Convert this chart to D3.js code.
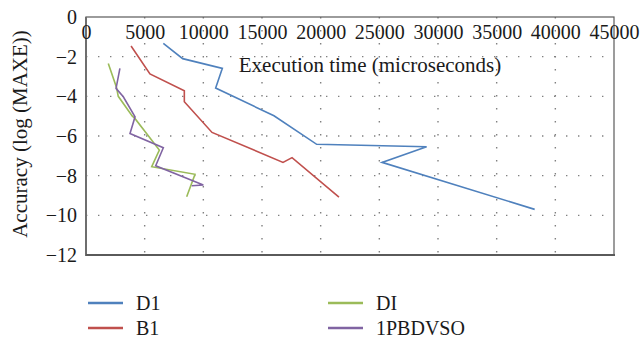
<!DOCTYPE html>
<html>
<head>
<meta charset="utf-8">
<script src="https://cdn.jsdelivr.net/npm/d3@7"></script>
<style>
  body { margin: 0; background: #fff; }
  svg { display: block; }
</style>
</head>
<body>
<div id="chart"></div>
<script>
// series: execution time (microseconds) vs accuracy (log MAXE)
const seriesNames = ['D1', 'B1', 'DI', '1PBDVSO'];
const seriesColors = ['#4f81bd', '#c0504d', '#9bbb59', '#8064a2'];

const d1Time = [6590, 8240, 11620, 11050, 16020, 19660, 29030, 25230, 38240];
const d1Acc  = [-1.33, -2.10, -2.59, -3.58, -4.98, -6.42, -6.54, -7.33, -9.70];

const b1Time = [3840, 5450, 8380, 8380, 10740, 16790, 17560, 21560];
const b1Acc  = [-1.46, -2.87, -3.72, -4.27, -5.82, -7.33, -7.09, -9.08];

const diTime = [1900, 2600, 2750, 3950, 4150, 6250, 5600, 9290, 8580];
const diAcc  = [-2.34, -3.55, -4.0, -5.0, -5.1, -6.71, -7.55, -7.93, -9.06];

const pbTime = [2890, 2560, 3180, 4180, 3750, 6590, 5940, 10000, 9010];
const pbAcc  = [-2.59, -3.60, -4.02, -5.03, -5.87, -6.59, -7.50, -8.47, -8.51];

const xTicks = [0, 5000, 10000, 15000, 20000, 25000, 30000, 35000, 40000, 45000];
const yTicks = [0, -2, -4, -6, -8, -10, -12];

const allTimes = [d1Time, b1Time, diTime, pbTime];
const allAcc = [d1Acc, b1Acc, diAcc, pbAcc];

const width = 641, height = 338;
const plotL = 86, plotR = 614, plotT = 17, plotB = 255;
const serif = '"Liberation Serif", "Times New Roman", serif';

const svg = d3.select('#chart').append('svg')
  .attr('width', width).attr('height', height)
  .attr('font-family', serif);

const x = d3.scaleLinear().domain([0, 45000]).range([plotL, plotR]);
const y = d3.scaleLinear().domain([0, -12]).range([plotT, plotB]);

// dotted grid
svg.append('g').selectAll('line')
  .data(xTicks.slice(1, -1))
  .join('line')
  .attr('x1', d => x(d)).attr('x2', d => x(d))
  .attr('y1', plotT).attr('y2', plotB)
  .attr('stroke', '#808080').attr('stroke-width', 1.4)
  .attr('stroke-dasharray', '1.4,11.6');

svg.append('g').selectAll('line')
  .data(yTicks.slice(1, -1))
  .join('line')
  .attr('x1', plotL).attr('x2', plotR)
  .attr('y1', d => y(d)).attr('y2', d => y(d))
  .attr('stroke', '#808080').attr('stroke-width', 1.4)
  .attr('stroke-dasharray', '1.4,10.6');

// frame
svg.append('rect')
  .attr('x', plotL).attr('y', plotT)
  .attr('width', plotR - plotL).attr('height', plotB - plotT)
  .attr('fill', 'none').attr('stroke', '#5a5a5a').attr('stroke-width', 1.2);
svg.append('line')
  .attr('x1', plotL).attr('x2', plotL).attr('y1', plotT).attr('y2', plotB + 1)
  .attr('stroke', '#6e6e6e').attr('stroke-width', 2);
svg.append('line')
  .attr('x1', plotL).attr('x2', plotR + 1).attr('y1', plotB).attr('y2', plotB)
  .attr('stroke', '#5a5a5a').attr('stroke-width', 2);

// x axis labels sit inside, under the top border
const xAxis = d3.axisBottom(x).tickValues(xTicks).tickSize(0).tickPadding(8)
  .tickFormat(d3.format('d'));
const gx = svg.append('g')
  .attr('transform', 'translate(0,' + plotT + ')')
  .call(xAxis)
  .attr('font-family', serif).attr('font-size', 20);
gx.select('.domain').remove();
gx.selectAll('text').attr('fill', '#1a1a1a');

const yAxis = d3.axisLeft(y).tickValues(yTicks).tickSize(0).tickPadding(9);
const gy = svg.append('g')
  .attr('transform', 'translate(' + plotL + ',0)')
  .call(yAxis)
  .attr('font-family', serif).attr('font-size', 20);
gy.select('.domain').remove();
gy.selectAll('text').attr('fill', '#1a1a1a');

svg.append('text')
  .attr('x', 370).attr('y', 72)
  .attr('text-anchor', 'middle')
  .attr('font-size', 21).attr('fill', '#1a1a1a')
  .text('Execution time (microseconds)');

svg.append('text')
  .attr('transform', 'translate(27,134) rotate(-90)')
  .attr('text-anchor', 'middle')
  .attr('font-size', 21).attr('fill', '#1a1a1a')
  .text('Accuracy (log (MAXE))');

// series lines
const line = d3.line().x(d => x(d[0])).y(d => y(d[1]));
seriesNames.forEach((name, i) => {
  const pts = allTimes[i].map((t, j) => [t, allAcc[i][j]]);
  svg.append('path')
    .datum(pts)
    .attr('d', line)
    .attr('fill', 'none')
    .attr('stroke', seriesColors[i])
    .attr('stroke-width', 1.6)
    .attr('stroke-linejoin', 'miter');
});

// legend, two columns
const legendPos = [[88, 303], [88, 328], [328, 303], [328, 328]];
const legend = svg.append('g');
seriesNames.forEach((name, i) => {
  const [lx, ly] = legendPos[i];
  legend.append('line')
    .attr('x1', lx).attr('x2', lx + 35)
    .attr('y1', ly).attr('y2', ly)
    .attr('stroke', seriesColors[i]).attr('stroke-width', 2.5);
  legend.append('text')
    .attr('x', lx + 48).attr('y', ly + 7)
    .attr('font-size', 20).attr('fill', '#1a1a1a')
    .text(name);
});
</script>
</body>
</html>
